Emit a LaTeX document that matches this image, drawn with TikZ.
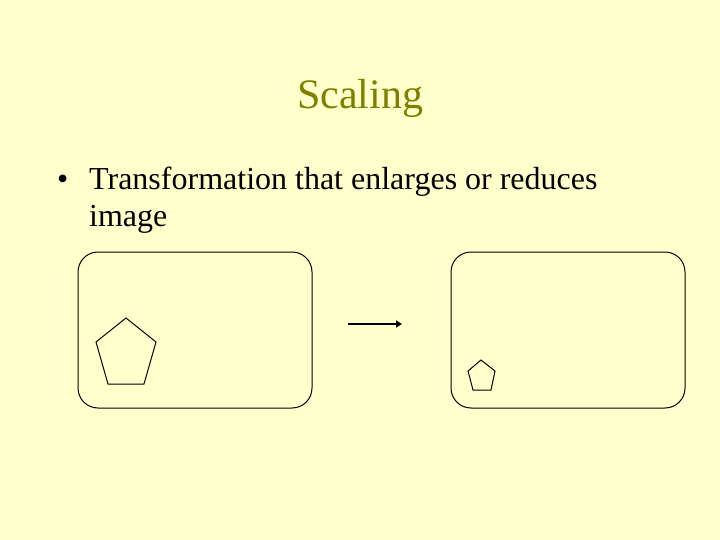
\documentclass[tikz,border=0pt]{standalone}
\usepackage{fontspec}
\setmainfont{Liberation Serif}
\usetikzlibrary{arrows.meta}

\definecolor{slidebg}{HTML}{FFFFCC}
\definecolor{titleolive}{HTML}{808000}

\tikzset{
  framebox/.style={draw, line width=1pt, rounded corners=20pt, inner sep=0pt},
  shapeline/.style={draw, line width=1pt, line join=miter},
  bodytext/.style={anchor=base west, inner sep=0pt, font=\fontsize{32}{36}\selectfont}
}

\begin{document}
\begin{tikzpicture}[x=1pt, y=-1pt]
            \fill[slidebg] (0, 0) rectangle (720, 540);
            \useasboundingbox (0, 0) rectangle (720, 540);
            % title and bullet
            \node[anchor=base, inner sep=0pt, text=titleolive, font=\fontsize{42}{46}\selectfont] (title) at (360, 109) {Scaling};
            \node[bodytext] (bullet) at (57, 190) {•};
            \node[bodytext] (line1) at (89, 190) {Transformation that enlarges or reduces};
            \node[bodytext] (line2) at (89, 226) {image};
            % the two frames
            \node[framebox, minimum width=234pt, minimum height=156pt] (before) at (195, 330) {};
            \node[framebox, minimum width=234pt, minimum height=156pt] (after) at (568, 330) {};
            % pentagons
            \draw[shapeline] (126, 318)--(156, 342)--(144, 384)--(108, 384)--(96, 342)--cycle;
            \draw[shapeline] (481, 360)--(495, 371)--(491, 390)--(473, 390)--(468, 371)--cycle;
            % arrow
            \coordinate (arrfrom) at (348, 324);
            \coordinate (arrto) at (402, 324);
            \draw[line width=2pt, -{Triangle[length=6pt, width=7pt]}] (arrfrom)--(arrto);
        \end{tikzpicture}
\end{document}
